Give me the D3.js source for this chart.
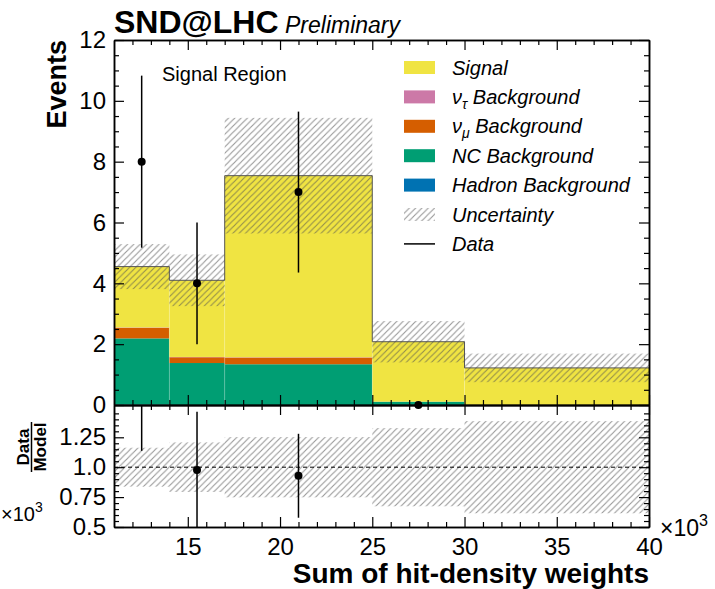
<!DOCTYPE html>
<html><head><meta charset="utf-8">
<script src="https://cdn.jsdelivr.net/npm/d3@7"></script>
<style>
html,body{margin:0;padding:0;background:#fff;}
svg{display:block;font-family:"Liberation Sans",Arial,Helvetica,sans-serif;}
</style></head><body>
<svg id="chart" width="715" height="589"></svg>
<script>
// Histogram bins (x in units of 10^3)
const binEdges = [11, 14, 17, 25, 30, 40];
// Stacked model components per bin
const signal    = [2.00, 2.52, 5.97, 1.97, 1.22];
const nutauBkg  = [0.01, 0.01, 0.01, 0.00, 0.00];
const numuBkg   = [0.35, 0.19, 0.22, 0.00, 0.00];
const ncBkg     = [2.18, 1.38, 1.34, 0.11, 0.00];
const hadronBkg = [0.01, 0.00, 0.00, 0.00, 0.00];
// Absolute uncertainty on the total model
const uncertainty = [0.74, 0.85, 1.90, 0.68, 0.47];
// Observed events (null = no entry drawn)
const observed = [8, 4, 7, 0, null];
// Tick labels
const xMajorTicks = [15, 20, 25, 30, 35, 40];
const yMajorTicks = [0, 2, 4, 6, 8, 10, 12];
const ratioTicks = [0.5, 0.75, 1.0, 1.25];
const ratioTickLabels = ["0.5", "0.75", "1.0", "1.25"];

const legendItems = [
  {key: "signal", label: "Signal", color: "#F0E442"},
  {key: "nutau", label: ["ν", "τ", " Background"], color: "#CC79A7"},
  {key: "numu", label: ["ν", "μ", " Background"], color: "#D55E00"},
  {key: "nc", label: "NC Background", color: "#009E73"},
  {key: "hadron", label: "Hadron Background", color: "#0072B2"},
  {key: "unc", label: "Uncertainty"},
  {key: "data", label: "Data"}
];
const colorOf = Object.fromEntries(legendItems.filter(d => d.color).map(d => [d.key, d.color]));

const svg = d3.select("#chart");
const FONT = '"Liberation Sans",Arial,Helvetica,sans-serif';

const L = 114, R = 649, T = 40, MB = 405, RB = 527;
const x = d3.scaleLinear().domain([11, 40]).range([L, R]);
const y = d3.scaleLinear().domain([0, 12]).range([MB, T]);
const yr = d3.scaleLinear().domain([0.5, 1.52]).range([RB, MB]);

// Hatch pattern for uncertainty bands
const defs = svg.append("defs");
const hatch = defs.append("pattern").attr("id", "hatch")
  .attr("patternUnits", "userSpaceOnUse").attr("width", 6.3).attr("height", 6.3);
hatch.append("path").attr("d", "M-1,1 L1,-1 M0,6.3 L6.3,0 M5.3,7.3 L7.3,5.3")
  .attr("stroke", "rgba(80,80,80,0.6)").attr("stroke-width", 1.1);
defs.append("clipPath").attr("id", "clipMain").append("rect")
  .attr("x", L).attr("y", T).attr("width", R - L).attr("height", MB - T);
defs.append("clipPath").attr("id", "clipRatio").append("rect")
  .attr("x", L).attr("y", MB).attr("width", R - L).attr("height", RB - MB);

const bins = binEdges.slice(0, -1).map((lo, i) => ({
  i, lo, hi: binEdges[i + 1],
  hadron: hadronBkg[i], nc: ncBkg[i], numu: numuBkg[i], nutau: nutauBkg[i], signal: signal[i]
}));
const stackKeys = ["hadron", "nc", "numu", "nutau", "signal"];
const series = d3.stack().keys(stackKeys)(bins);
const totals = bins.map(b => stackKeys.reduce((s, k) => s + b[k], 0));

// ---------- main panel ----------
const main = svg.append("g").attr("clip-path", "url(#clipMain)");
series.forEach(s => {
  main.append("g").selectAll("rect").data(s).join("rect")
    .attr("x", d => x(d.data.lo)).attr("width", d => x(d.data.hi) - x(d.data.lo))
    .attr("y", d => y(d[1])).attr("height", d => y(d[0]) - y(d[1]))
    .attr("fill", colorOf[s.key]);
});
// faint bin separators inside the stack
main.append("g").selectAll("line").data(bins.slice(1)).join("line")
  .attr("x1", d => x(d.lo)).attr("x2", d => x(d.lo))
  .attr("y1", y(0)).attr("y2", d => y(Math.min(totals[d.i], totals[d.i - 1])))
  .attr("stroke", "rgba(255,255,255,0.2)").attr("stroke-width", 1);
// total outline
const stepPts = bins.map((b, i) => [b.lo, totals[i]]).concat([[40, totals[totals.length - 1]]]);
main.append("path").datum(stepPts)
  .attr("d", d3.line().x(d => x(d[0])).y(d => y(d[1])).curve(d3.curveStepAfter))
  .attr("fill", "none").attr("stroke", "#555").attr("stroke-width", 1);
// uncertainty band
main.append("g").selectAll("rect").data(bins).join("rect")
  .attr("x", d => x(d.lo)).attr("width", d => x(d.hi) - x(d.lo))
  .attr("y", d => y(totals[d.i] + uncertainty[d.i]))
  .attr("height", d => y(totals[d.i] - uncertainty[d.i]) - y(totals[d.i] + uncertainty[d.i]))
  .attr("fill", "url(#hatch)");
// data points
const dataPts = bins.filter(b => observed[b.i] !== null).map(b => ({
  xc: (b.lo + b.hi) / 2, n: observed[b.i], err: Math.sqrt(observed[b.i]), tot: totals[b.i]
}));
const dataG = svg.append("g");
dataG.selectAll("line").data(dataPts.filter(d => d.err > 0)).join("line")
  .attr("x1", d => x(d.xc)).attr("x2", d => x(d.xc))
  .attr("y1", d => y(d.n - d.err)).attr("y2", d => y(d.n + d.err))
  .attr("stroke", "#000").attr("stroke-width", 1.5);
dataG.selectAll("circle").data(dataPts).join("circle")
  .attr("cx", d => x(d.xc)).attr("cy", d => y(d.n)).attr("r", 4).attr("fill", "#000");

// ---------- ratio panel ----------
const ratio = svg.append("g").attr("clip-path", "url(#clipRatio)");
ratio.append("g").selectAll("rect").data(bins).join("rect")
  .attr("x", d => x(d.lo)).attr("width", d => x(d.hi) - x(d.lo))
  .attr("y", d => yr(1 + uncertainty[d.i] / totals[d.i]))
  .attr("height", d => yr(1 - uncertainty[d.i] / totals[d.i]) - yr(1 + uncertainty[d.i] / totals[d.i]))
  .attr("fill", "url(#hatch)");
ratio.append("line").attr("x1", L).attr("x2", R).attr("y1", yr(1)).attr("y2", yr(1))
  .attr("stroke", "#000").attr("stroke-width", 1).attr("stroke-dasharray", "4,3");
const ratioPts = dataPts.filter(d => d.n > 0);
ratio.append("g").selectAll("line").data(ratioPts).join("line")
  .attr("x1", d => x(d.xc)).attr("x2", d => x(d.xc))
  .attr("y1", d => yr((d.n - d.err) / d.tot)).attr("y2", d => yr((d.n + d.err) / d.tot))
  .attr("stroke", "#000").attr("stroke-width", 1.5);
ratio.append("g").selectAll("circle").data(ratioPts).join("circle")
  .attr("cx", d => x(d.xc)).attr("cy", d => yr(d.n / d.tot)).attr("r", 4).attr("fill", "#000");

// ---------- axes ----------
function styleAxis(g) {
  g.attr("font-family", FONT).attr("font-size", 24);
  g.select(".domain").attr("stroke", "#000").attr("stroke-width", 1.5);
  g.selectAll(".tick line").attr("stroke", "#000").attr("stroke-width", 1.2);
  g.selectAll(".tick text").attr("fill", "#000");
  return g;
}
const xMinor = d3.range(12, 40).filter(v => v % 5 !== 0);
const yMinor = d3.range(1, 24).filter(i => i % 4 !== 0).map(i => i * 0.5);
const rMinor = d3.range(10, 31).filter(i => i % 5 !== 0).map(i => i * 0.05);

function addX(axisFn, yPos, labels) {
  styleAxis(svg.append("g").attr("transform", `translate(0,${yPos})`)
    .call(axisFn(x).tickValues(xMinor).tickSize(-5).tickSizeOuter(0).tickFormat("")));
  return styleAxis(svg.append("g").attr("transform", `translate(0,${yPos})`)
    .call(axisFn(x).tickValues(xMajorTicks).tickSize(-10).tickSizeOuter(0)
      .tickPadding(11).tickFormat(labels ? d3.format("d") : "")));
}
function addY(axisFn, scale, xPos, majors, minors, fmt) {
  styleAxis(svg.append("g").attr("transform", `translate(${xPos},0)`)
    .call(axisFn(scale).tickValues(minors).tickSize(-5).tickSizeOuter(0).tickFormat("")));
  return styleAxis(svg.append("g").attr("transform", `translate(${xPos},0)`)
    .call(axisFn(scale).tickValues(majors).tickSize(-10).tickSizeOuter(0).tickPadding(8)
      .tickFormat(fmt || "")));
}
addX(d3.axisTop, T, false);
addX(d3.axisBottom, MB, false);
addX(d3.axisTop, MB, false);
addX(d3.axisBottom, RB, true);
addY(d3.axisLeft, y, L, yMajorTicks, yMinor, d3.format("d"));
addY(d3.axisRight, y, R, yMajorTicks, yMinor, null);
addY(d3.axisLeft, yr, L, ratioTicks, rMinor, d => ratioTickLabels[ratioTicks.indexOf(d)]);
addY(d3.axisRight, yr, R, ratioTicks, rMinor, null);

// ---------- text ----------
svg.append("text").attr("x", 114).attr("y", 33).attr("font-family", FONT)
  .attr("font-weight", "bold").attr("font-size", 32).text("SND@LHC");
svg.append("text").attr("x", 285).attr("y", 33).attr("font-family", FONT)
  .attr("font-style", "italic").attr("font-size", 23).text("Preliminary");
svg.append("text").attr("transform", "translate(66,40) rotate(-90)").attr("text-anchor", "end")
  .attr("font-family", FONT).attr("font-weight", "bold").attr("font-size", 27).text("Events");
svg.append("text").attr("x", 162).attr("y", 81).attr("font-family", FONT)
  .attr("font-size", 20).text("Signal Region");
svg.append("text").attr("x", 649).attr("y", 583).attr("text-anchor", "end").attr("font-family", FONT)
  .attr("font-weight", "bold").attr("font-size", 28).text("Sum of hit-density weights");

// Data / Model fraction label
const frac = svg.append("g").attr("font-family", FONT).attr("font-weight", "bold").attr("font-size", 17);
frac.append("text").attr("transform", "translate(29,447) rotate(-90)").attr("text-anchor", "middle").text("Data");
frac.append("text").attr("transform", "translate(46,447) rotate(-90)").attr("text-anchor", "middle").text("Model");
frac.append("line").attr("x1", 31.5).attr("x2", 31.5).attr("y1", 422).attr("y2", 472)
  .attr("stroke", "#000").attr("stroke-width", 1.5);

// x10^3 multipliers
function multiplier(xPos, yPos, anchor, size) {
  const t = svg.append("text").attr("x", xPos).attr("y", yPos).attr("text-anchor", anchor)
    .attr("font-family", FONT).attr("font-size", size);
  t.append("tspan").text("×10");
  t.append("tspan").attr("dy", -size * 0.43).attr("font-size", size * 0.7).text("3");
}
multiplier(660, 536, "start", 23);
multiplier(1, 521, "start", 20);

// ---------- legend ----------
const leg = svg.append("g").attr("font-family", FONT).attr("font-size", 20).attr("font-style", "italic");
legendItems.forEach((d, i) => {
  const cy = 67.5 + i * 29.4;
  if (d.color) {
    leg.append("rect").attr("x", 404).attr("y", cy - 6.5).attr("width", 31).attr("height", 13).attr("fill", d.color);
  } else if (d.key === "unc") {
    leg.append("rect").attr("x", 404).attr("y", cy - 6.5).attr("width", 31).attr("height", 13).attr("fill", "url(#hatch)");
  } else {
    leg.append("line").attr("x1", 404).attr("x2", 435).attr("y1", cy).attr("y2", cy)
      .attr("stroke", "#000").attr("stroke-width", 1.5);
  }
  const t = leg.append("text").attr("x", 452).attr("y", cy + 7);
  if (Array.isArray(d.label)) {
    t.append("tspan").text(d.label[0]);
    t.append("tspan").attr("dy", 5).attr("font-size", 14).text(d.label[1]);
    t.append("tspan").attr("dy", -5).text(d.label[2]);
  } else {
    t.text(d.label);
  }
});
</script>
</body></html>
